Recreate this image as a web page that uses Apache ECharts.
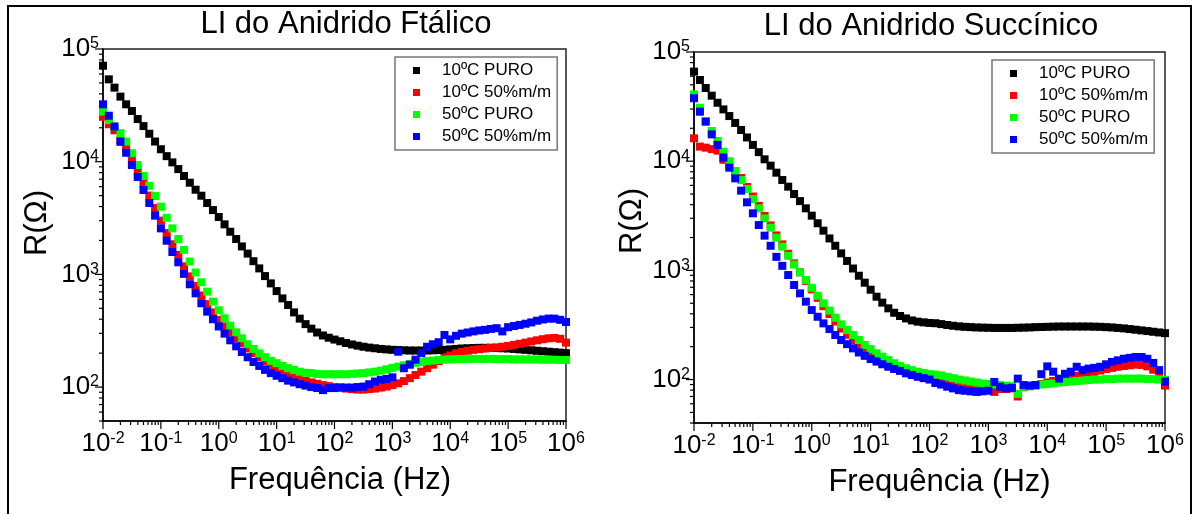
<!DOCTYPE html>
<html>
<head>
<meta charset="utf-8">
<script src="https://cdn.jsdelivr.net/npm/echarts@6/dist/echarts.min.js"></script>
<style>
  html, body { margin: 0; padding: 0; background: #fff; }
  #main { width: 1199px; height: 514px; }
</style>
</head>
<body>
<div id="main"></div>
<script>
// frequencias medidas (Hz), 10 pontos por decada
const freq = [
  0.01, 0.0126, 0.0158, 0.02, 0.0251, 0.0316, 0.0398, 0.0501, 0.0631, 0.0794,
  0.1, 0.126, 0.158, 0.2, 0.251, 0.316, 0.398, 0.501, 0.631, 0.794,
  1, 1.26, 1.58, 2, 2.51, 3.16, 3.98, 5.01, 6.31, 7.94,
  10, 12.6, 15.8, 20, 25.1, 31.6, 39.8, 50.1, 63.1, 79.4,
  100, 126, 158, 200, 251, 316, 398, 501, 631, 794,
  1000, 1260, 1580, 2000, 2510, 3160, 3980, 5010, 6310, 7940,
  10000, 12600, 15800, 20000, 25100, 31600, 39800, 50100, 63100, 79400,
  100000, 126000, 158000, 200000, 251000, 316000, 398000, 501000, 631000, 794000,
  1000000
];

const seriesNames = ['10ºC PURO', '10ºC 50%m/m', '50ºC PURO', '50ºC 50%m/m'];
const seriesColors = ['#000000', '#ff0000', '#00ff00', '#0000ff'];

// LI do Anidrido Ftalico
const ftBlack = [
  71100, 53800, 45400, 37800, 32300, 28200, 23900, 20700, 17700, 15100,
  12900, 11200, 9860, 8600, 7460, 6510, 5640, 4990, 4300, 3720,
  3230, 2780, 2390, 2060, 1770, 1530, 1310, 1130, 966, 832,
  711, 612, 535, 460, 405, 362, 330, 305, 287, 274,
  264, 255, 246, 239, 233, 228, 224, 221, 218, 216,
  214, 213, 212, 211, 211, 211, 211, 212, 213, 214,
  216, 218, 220, 221, 222, 223, 223, 223, 222, 221,
  220, 218, 216, 214, 212, 210, 208, 206, 204, 202,
  200
];
const ftRed = [
  25000, 21500, 19000, 15500, 13200, 10600, 8500, 6500, 5000, 3880,
  3000, 2330, 1850, 1490, 1180, 960, 790, 650, 545, 460,
  395, 345, 305, 272, 244, 220, 200, 183, 168, 156,
  146, 137, 130, 124, 119, 114, 110, 107, 104, 102,
  100, 99, 97, 96, 95, 95, 96, 97, 99, 101,
  104, 108, 113, 120, 128, 137, 147, 158, 170, 181,
  191, 199, 205, 210, 214, 217, 220, 223, 225, 228,
  232, 237, 242, 248, 254, 260, 266, 271, 273, 268,
  248
];
const ftGreen = [
  27800, 23400, 20500, 17900, 15100, 11900, 9330, 7460, 6110, 4960,
  3990, 3180, 2560, 2060, 1650, 1300, 1040, 851, 703, 573,
  480, 408, 351, 306, 271, 240, 218, 199, 184, 171,
  163, 154, 147, 142, 137, 134, 133, 131, 130, 130,
  130, 130, 130, 131, 132, 133, 135, 137, 140, 144,
  148, 152, 156, 160, 164, 167, 170, 172, 174, 175,
  176, 177, 177, 178, 178, 178, 178, 178, 177, 177,
  177, 176, 176, 176, 176, 176, 175, 175, 175, 174,
  174
];
const ftBlue = [
  32300, 25600, 20500, 15000, 12000, 9350, 7320, 5610, 4300, 3320,
  2560, 1990, 1580, 1280, 1010, 817, 679, 554, 467, 400,
  345, 298, 260, 230, 205, 184, 167, 154, 142, 133,
  126, 120, 114, 110, 106, 103, 100, 98, 94, 98,
  98, 99, 99, 99, 100, 101, 106, 112, 116, 118,
  122, 206, 147, 158, 175, 200, 228, 240, 250, 290,
  265, 285, 298, 305, 312, 318, 322, 328, 333, 312,
  340, 348, 356, 365, 375, 388, 398, 405, 405, 395,
  378
];

// LI do Anidrido Succinico
const suBlack = [
  66100, 55400, 46800, 39800, 34300, 29800, 25900, 22400, 19300, 16500,
  14100, 12100, 10400, 9100, 7850, 6720, 5840, 5000, 4310, 3700,
  3170, 2700, 2310, 1960, 1680, 1430, 1220, 1040, 893, 771,
  665, 574, 506, 449, 409, 382, 363, 348, 339, 334,
  330, 328, 322, 316, 311, 307, 304, 302, 300, 299,
  298, 297, 297, 297, 297, 298, 299, 300, 302, 303,
  304, 305, 306, 306, 306, 306, 306, 306, 305, 304,
  302, 300, 297, 294, 290, 286, 282, 278, 274, 270,
  266
];
const suRed = [
  16200, 13600, 13300, 12900, 12500, 10300, 9300, 8100, 7000, 5800,
  4750, 3900, 3150, 2580, 2090, 1730, 1420, 1160, 960, 800,
  670, 560, 470, 398, 340, 293, 257, 228, 203, 183,
  168, 155, 144, 135, 128, 122, 117, 113, 109, 106,
  104, 101, 98, 95, 92, 89, 87, 85, 84, 83,
  82, 77, 82, 82, 83, 70, 85, 87, 89, 91,
  94, 97, 99, 102, 105, 108, 111, 114, 117, 121,
  125, 128, 131, 133, 135, 137, 136, 132, 123, 108,
  88
];
const suGreen = [
  40900, 30900, 23300, 18900, 15300, 12200, 10000, 8130, 6720, 5560,
  4500, 3700, 2990, 2460, 1990, 1650, 1360, 1130, 960, 815,
  693, 586, 499, 428, 368, 320, 284, 256, 230, 207,
  190, 174, 162, 151, 141, 133, 127, 122, 118, 115,
  112, 111, 109, 106, 103, 100, 98, 96, 94, 92,
  91, 90, 89, 88, 87, 74, 86, 87, 88, 90,
  91, 92, 94, 95, 96, 97, 98, 99, 100, 100,
  101, 101, 102, 102, 102, 102, 102, 101, 101, 100,
  99
];
const suBlue = [
  37700, 28400, 23000, 17600, 14100, 10800, 8720, 6960, 5370, 4200,
  3330, 2600, 2080, 1680, 1330, 1100, 906, 734, 616, 517,
  433, 376, 327, 290, 256, 230, 211, 193, 177, 165,
  154, 146, 138, 131, 125, 120, 114, 110, 106, 103,
  100, 93, 90, 86, 83, 80, 79, 78, 77, 78,
  79, 95, 86, 83, 84, 102, 89, 88, 89, 112,
  132, 118, 102, 113, 118, 131, 122, 126, 128, 131,
  138, 145, 150, 155, 158, 161, 161, 155, 142, 122,
  96
];

// ticks dos eixos
const xMajor = [0.01, 0.1, 1, 10, 100, 1000, 10000, 100000, 1000000];
const yMajor = [100, 1000, 10000, 100000];
const mantissas = [2, 3, 4, 5, 6, 7, 8, 9];

const FONT = 'Liberation Sans, Arial, sans-serif';

function pts(ys) {
  return freq.map(function (f, i) { return [f, ys[i]]; });
}

function powLabel(v) {
  var lg = Math.log10(v);
  var e = Math.round(lg);
  if (Math.abs(lg - e) > 1e-6) return '';
  return '{b|10}{s|' + e + '}';
}

const richLbl = {
  b: { fontSize: 26, fontFamily: FONT, color: '#000' },
  s: { fontSize: 16, fontFamily: FONT, color: '#000', verticalAlign: 'top' }
};

function minorList(lo, hi) {
  var out = [];
  for (var p = lo; p <= hi; p *= 10) {
    mantissas.forEach(function (m) { out.push(m * p); });
  }
  return out;
}

// draws log-style ticks (major + minor) outside the frame
function tickSeries(idx, xMin, yMin, yMinor) {
  var data = [];
  xMajor.forEach(function (v) { data.push([v, yMin, 0, 8]); });
  minorList(0.01, 100000).forEach(function (v) { data.push([v, yMin, 0, 4]); });
  yMajor.forEach(function (v) { data.push([xMin, v, 1, 8]); });
  yMinor.forEach(function (v) { data.push([xMin, v, 1, 4]); });
  return {
    type: 'custom', xAxisIndex: idx, yAxisIndex: idx, silent: true, clip: false, z: 5,
    data: data,
    renderItem: function (params, api) {
      var p = api.coord([api.value(0), api.value(1)]);
      var len = api.value(3);
      var shape = api.value(2) === 1
        ? { x1: p[0], y1: p[1], x2: p[0] - len, y2: p[1] }
        : { x1: p[0], y1: p[1], x2: p[0], y2: p[1] + len };
      return { type: 'line', shape: shape, style: { stroke: '#000', lineWidth: 1.2 } };
    }
  };
}

function scatter(idx, k, ys) {
  return {
    name: seriesNames[k], type: 'scatter', xAxisIndex: idx, yAxisIndex: idx,
    symbol: 'rect', symbolSize: 8, data: pts(ys),
    itemStyle: { color: seriesColors[k], opacity: 1 }, z: 3 + k
  };
}

function xAxisCfg(idx, padLeft) {
  return {
    gridIndex: idx, type: 'log', logBase: 10, min: 0.01, max: 1000000,
    axisLine: { lineStyle: { color: '#000', width: 1.5 } },
    axisTick: { show: false }, splitLine: { show: false },
    axisLabel: { formatter: powLabel, rich: richLbl, margin: 10, showMinLabel: true, showMaxLabel: true },
    name: 'Frequência (Hz)', nameLocation: 'middle', nameGap: 44,
    nameTextStyle: { fontSize: 31, color: '#000', fontFamily: FONT, padding: [0, 0, 0, padLeft] }
  };
}

function yAxisCfg(idx, ymin, gap, padLeft) {
  return {
    gridIndex: idx, type: 'log', logBase: 10, min: ymin, max: 100000,
    axisLine: { lineStyle: { color: '#000', width: 1.5 } },
    axisTick: { show: false }, splitLine: { show: false },
    axisLabel: { formatter: powLabel, rich: richLbl, margin: 4 },
    name: 'R(Ω)', nameLocation: 'middle', nameGap: gap,
    nameTextStyle: { fontSize: 31, color: '#000', fontFamily: FONT, padding: [0, 0, 0, padLeft] }
  };
}

function legendCfg(left, top) {
  return {
    left: left, top: top, orient: 'vertical', selectedMode: false,
    icon: 'rect', itemWidth: 7, itemHeight: 7, itemGap: 5,
    padding: [5, 6, 5, 18], borderColor: '#777', borderWidth: 1.5,
    textStyle: { fontSize: 17, fontFamily: FONT, color: '#000', lineHeight: 16, padding: [0, 0, 0, 17] },
    data: seriesNames
  };
}

var chart = echarts.init(document.getElementById('main'));

chart.setOption({
  animation: false,
  backgroundColor: '#fff',
  title: [
    { text: 'LI do Anidrido Ftálico', left: 346, top: 9, textAlign: 'center', padding: 0,
      textStyle: { fontSize: 31, fontWeight: 'normal', color: '#000', fontFamily: FONT } },
    { text: 'LI do Anidrido Succínico', left: 931, top: 11, textAlign: 'center', padding: 0,
      textStyle: { fontSize: 31, fontWeight: 'normal', color: '#000', fontFamily: FONT } }
  ],
  graphic: [
    { type: 'rect', silent: true, shape: { x: 8, y: 6, width: 1183, height: 520 },
      style: { fill: 'none', stroke: '#000', lineWidth: 2 } }
  ],
  legend: [legendCfg(395, 57), legendCfg(992, 60)],
  grid: [
    { left: 103, top: 49, width: 463, height: 372, show: true, borderColor: '#222', borderWidth: 1.5 },
    { left: 694, top: 52, width: 471, height: 371, show: true, borderColor: '#222', borderWidth: 1.5 }
  ],
  xAxis: [xAxisCfg(0, 11), xAxisCfg(1, 20)],
  yAxis: [yAxisCfg(0, 50, 50, 24), yAxisCfg(1, 40, 39, 33)],
  series: [
    scatter(0, 0, ftBlack), scatter(0, 1, ftRed), scatter(0, 2, ftGreen), scatter(0, 3, ftBlue),
    scatter(1, 0, suBlack), scatter(1, 1, suRed), scatter(1, 2, suGreen), scatter(1, 3, suBlue),
    tickSeries(0, 0.01, 50, [50, 60, 70, 80, 90].concat(minorList(100, 10000))),
    tickSeries(1, 0.01, 40, [40, 50, 60, 70, 80, 90].concat(minorList(100, 10000)))
  ]
});
</script>
</body>
</html>
